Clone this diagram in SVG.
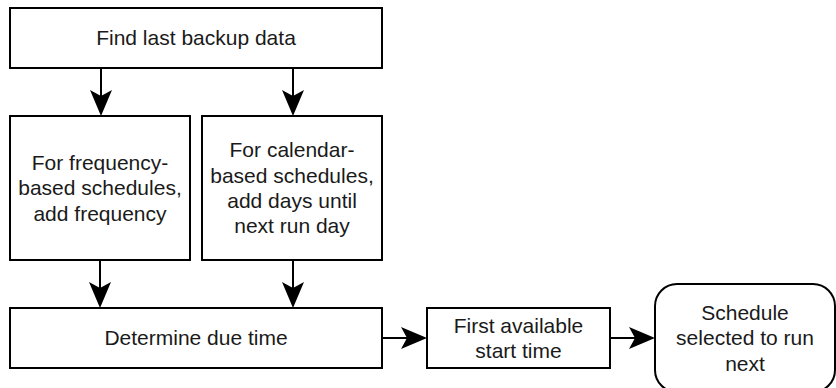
<svg xmlns="http://www.w3.org/2000/svg" width="836" height="388" viewBox="0 0 836 388">
<style>
.box{fill:#fff;stroke:#000;stroke-width:2}
.t{font-family:"Liberation Sans",Arial,sans-serif;font-size:21px;fill:#1a1a1a;text-anchor:middle}
.c{stroke:#000;stroke-width:2;fill:none;marker-end:url(#ah)}
</style>
<defs>
<marker id="ah" markerUnits="userSpaceOnUse" markerWidth="28" markerHeight="24" refX="6" refY="11" orient="auto" viewBox="0 0 28 24">
<path d="M0,0 L26,11 L0,22 L6,11 Z" fill="#000"/>
</marker>
</defs>
<rect width="836" height="388" fill="#fff"/>
<g id="find">
<rect class="box" x="10" y="8" width="372" height="60"/>
<text class="t" x="196" y="45.4">Find last backup data</text>
</g>
<g id="freq">
<rect class="box" x="10" y="116" width="180" height="144"/>
<text class="t" x="100" y="170">For frequency-</text>
<text class="t" x="100" y="195.4">based schedules,</text>
<text class="t" x="100" y="220.6">add frequency</text>
</g>
<g id="cal">
<rect class="box" x="202" y="116" width="180" height="144"/>
<text class="t" x="292" y="157.4">For calendar-</text>
<text class="t" x="292" y="182.6">based schedules,</text>
<text class="t" x="292" y="207.8">add days until</text>
<text class="t" x="292" y="233">next run day</text>
</g>
<g id="due">
<rect class="box" x="10" y="308" width="372" height="60"/>
<text class="t" x="196" y="345.4">Determine due time</text>
</g>
<g id="first">
<rect class="box" x="427" y="308" width="183" height="60"/>
<text class="t" x="518.5" y="332.8">First available</text>
<text class="t" x="518.5" y="358">start time</text>
</g>
<g id="sel">
<rect class="box" x="655" y="284" width="180" height="108" rx="22" ry="22"/>
<text class="t" x="745" y="320">Schedule</text>
<text class="t" x="745" y="345.4">selected to run</text>
<text class="t" x="745" y="370.6">next</text>
</g>
<g id="connectors">
<line class="c" x1="101" y1="68" x2="101" y2="96"/>
<line class="c" x1="293" y1="68" x2="293" y2="96"/>
<line class="c" x1="100" y1="260" x2="100" y2="288"/>
<line class="c" x1="293" y1="260" x2="293" y2="288"/>
<line class="c" x1="382" y1="338" x2="407" y2="338"/>
<line class="c" x1="610" y1="338" x2="635" y2="338"/>
</g>
</svg>
